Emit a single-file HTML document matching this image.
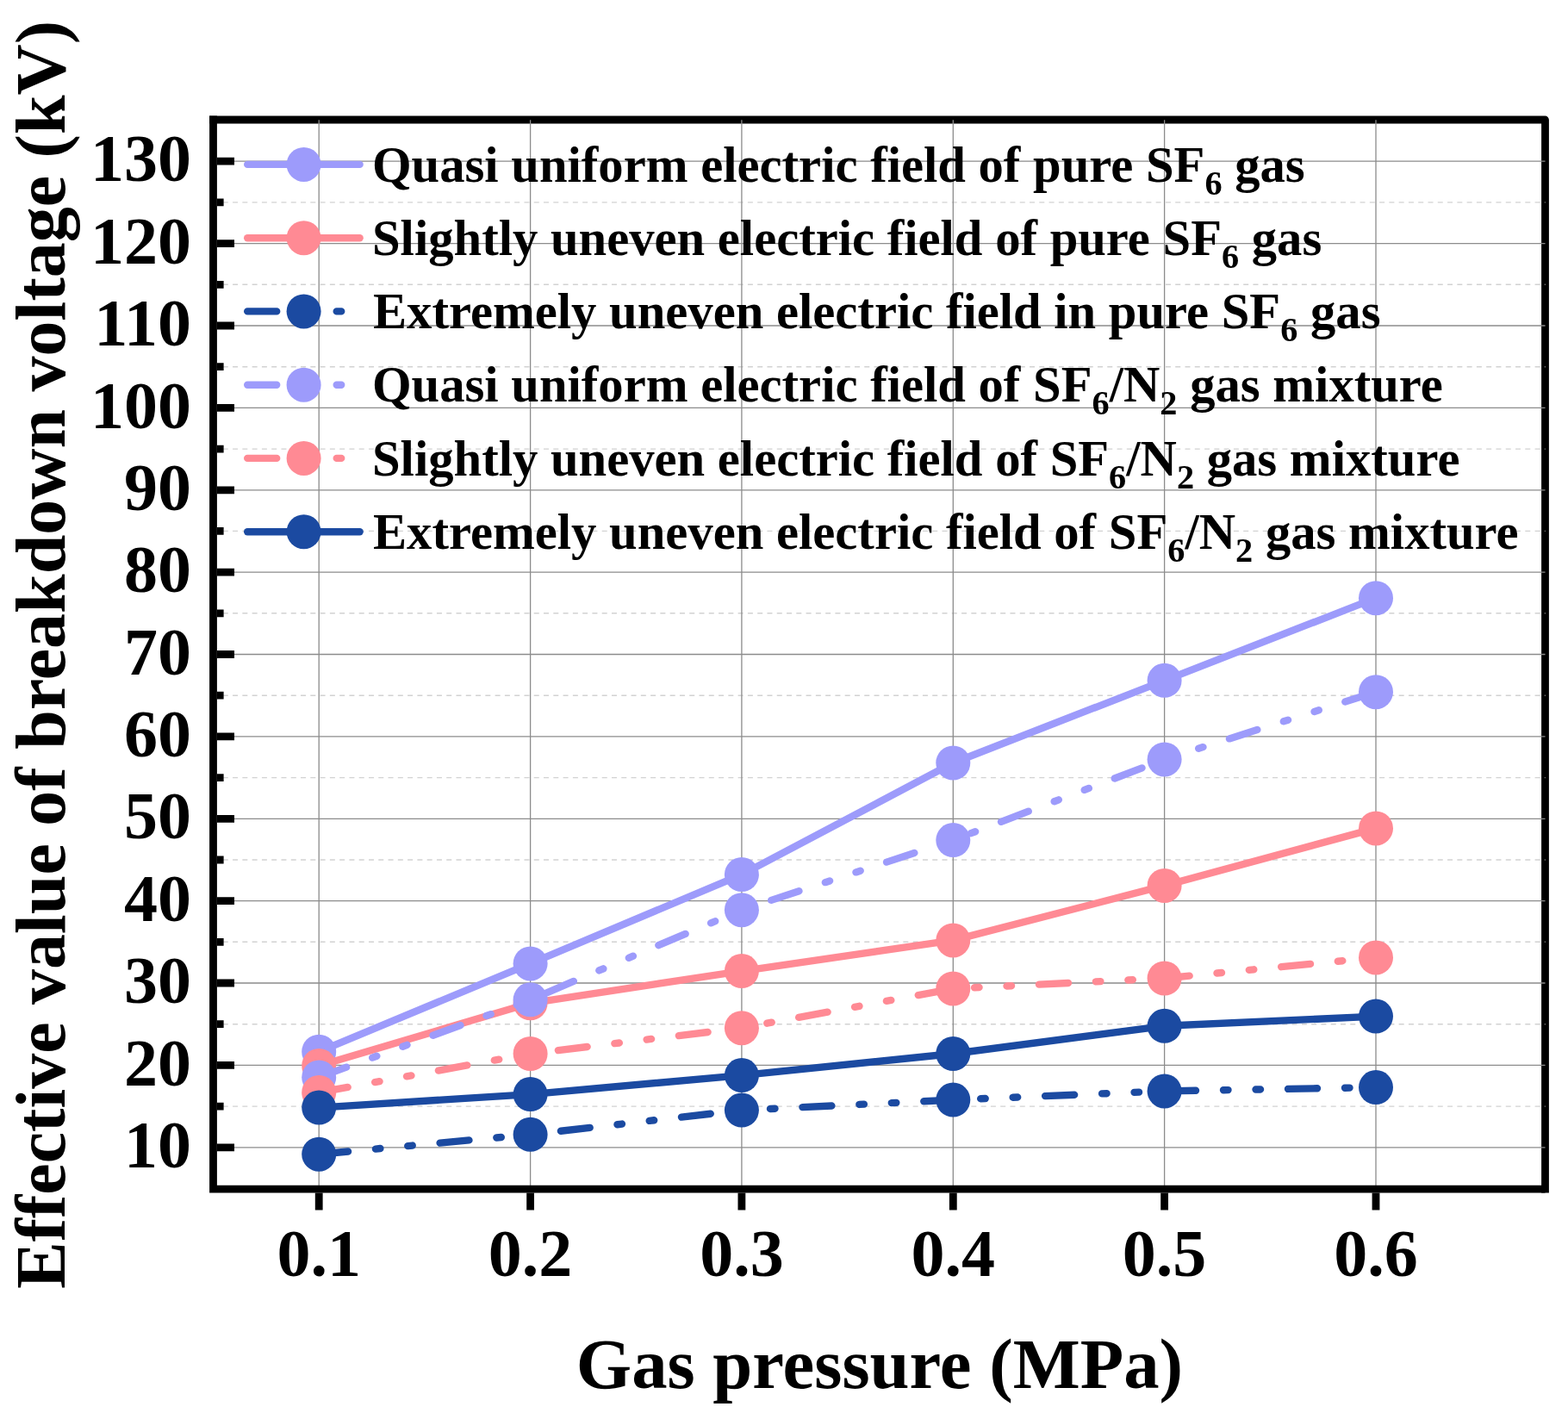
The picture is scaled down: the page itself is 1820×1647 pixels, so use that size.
<!DOCTYPE html>
<html><head><meta charset="utf-8"><style>html,body{margin:0;padding:0;background:#fff;}svg{display:block;}</style></head>
<body>
<svg width="1820" height="1647" viewBox="0 0 1820 1647">
<style>text{font-family:"Liberation Serif","Times New Roman",serif;font-weight:bold;fill:#000}</style>
<rect width="1820" height="1647" fill="#fff"/>
<path d="M243.1,139.0H1793.5V1384.6000000000001" stroke="#000" stroke-width="8.8" fill="none" stroke-linejoin="round"/>
<path d="M247.5,1284.1H1793.5 M247.5,1188.7H1793.5 M247.5,1093.3H1793.5 M247.5,998.0H1793.5 M247.5,902.6H1793.5 M247.5,807.2H1793.5 M247.5,711.8H1793.5 M247.5,616.4H1793.5 M247.5,521.1H1793.5 M247.5,425.7H1793.5 M247.5,330.3H1793.5 M247.5,234.9H1793.5" stroke="#d2d2d2" stroke-width="1.4" stroke-dasharray="6 5.28" fill="none"/>
<path d="M252,1331.8H1793.5 M252,1236.4H1793.5 M252,1141.0H1793.5 M252,1045.7H1793.5 M252,950.3H1793.5 M252,854.9H1793.5 M252,759.5H1793.5 M252,664.1H1793.5 M252,568.8H1793.5 M252,473.4H1793.5 M252,378.0H1793.5 M252,282.6H1793.5 M252,187.2H1793.5 M370.2,139.2V1376 M615.6,139.2V1376 M860.9,139.2V1376 M1106.3,139.2V1376 M1351.6,139.2V1376 M1597.0,139.2V1376" stroke="#8c8c8c" stroke-width="1.3" fill="none"/>
<path d="M252,1331.8H272 M252,1236.4H272 M252,1141.0H272 M252,1045.7H272 M252,950.3H272 M252,854.9H272 M252,759.5H272 M252,664.1H272 M252,568.8H272 M252,473.4H272 M252,378.0H272 M252,282.6H272 M252,187.2H272 M252,1284.1H259.6 M252,1188.7H259.6 M252,1093.3H259.6 M252,998.0H259.6 M252,902.6H259.6 M252,807.2H259.6 M252,711.8H259.6 M252,616.4H259.6 M252,521.1H259.6 M252,425.7H259.6 M252,330.3H259.6 M252,234.9H259.6 M370.2,1384.5V1404.4 M615.6,1384.5V1404.4 M860.9,1384.5V1404.4 M1106.3,1384.5V1404.4 M1351.6,1384.5V1404.4 M1597.0,1384.5V1404.4" stroke="#000" stroke-width="8.8" fill="none"/>
<path d="M247.5,134.6V1380.2H1793.5" stroke="#000" stroke-width="8.8" fill="none" stroke-linejoin="miter"/>
<path d="M287.2,190.9H417.6" stroke="#9d9bfb" stroke-width="8.4" stroke-linecap="round" fill="none"/>
<circle cx="352.6" cy="190.9" r="20" fill="#9d9bfb"/>
<path d="M287.2,276.2H417.6" stroke="#ff8a94" stroke-width="8.4" stroke-linecap="round" fill="none"/>
<circle cx="352.6" cy="276.2" r="20" fill="#ff8a94"/>
<path d="M287.2,361.4H417.6" stroke="#1b4aa1" stroke-width="8.4" stroke-linecap="round" stroke-dasharray="34 32 5.5 32 5.5 32" fill="none"/>
<circle cx="352.6" cy="361.4" r="20" fill="#1b4aa1"/>
<path d="M287.2,446.7H417.6" stroke="#9d9bfb" stroke-width="8.4" stroke-linecap="round" stroke-dasharray="34 32 5.5 32 5.5 32" fill="none"/>
<circle cx="352.6" cy="446.7" r="20" fill="#9d9bfb"/>
<path d="M287.2,531.9H417.6" stroke="#ff8a94" stroke-width="8.4" stroke-linecap="round" stroke-dasharray="34 32 5.5 32 5.5 32" fill="none"/>
<circle cx="352.6" cy="531.9" r="20" fill="#ff8a94"/>
<path d="M287.2,617.2H417.6" stroke="#1b4aa1" stroke-width="8.4" stroke-linecap="round" fill="none"/>
<circle cx="352.6" cy="617.2" r="20" fill="#1b4aa1"/>
<polyline points="370.2,1220.7 615.6,1118.4 860.9,1015.1 1106.3,885.5 1351.6,789.8 1597.0,694.2" stroke="#9d9bfb" stroke-width="8.4" stroke-linecap="round" stroke-linejoin="round" fill="none"/>
<circle cx="370.2" cy="1220.7" r="20" fill="#9d9bfb"/>
<circle cx="615.6" cy="1118.4" r="20" fill="#9d9bfb"/>
<circle cx="860.9" cy="1015.1" r="20" fill="#9d9bfb"/>
<circle cx="1106.3" cy="885.5" r="20" fill="#9d9bfb"/>
<circle cx="1351.6" cy="789.8" r="20" fill="#9d9bfb"/>
<circle cx="1597.0" cy="694.2" r="20" fill="#9d9bfb"/>
<polyline points="370.2,1237.0 615.6,1164.3 860.9,1127.1 1106.3,1091.4 1351.6,1027.9 1597.0,961.4" stroke="#ff8a94" stroke-width="8.4" stroke-linecap="round" stroke-linejoin="round" fill="none"/>
<circle cx="370.2" cy="1237.0" r="20" fill="#ff8a94"/>
<circle cx="615.6" cy="1164.3" r="20" fill="#ff8a94"/>
<circle cx="860.9" cy="1127.1" r="20" fill="#ff8a94"/>
<circle cx="1106.3" cy="1091.4" r="20" fill="#ff8a94"/>
<circle cx="1351.6" cy="1027.9" r="20" fill="#ff8a94"/>
<circle cx="1597.0" cy="961.4" r="20" fill="#ff8a94"/>
<polyline points="370.2,1339.7 615.6,1316.8 860.9,1288.6 1106.3,1276.6 1351.6,1266.4 1597.0,1262.1" stroke="#1b4aa1" stroke-width="8.4" stroke-linecap="round" stroke-linejoin="round" stroke-dasharray="34 32 5.5 32 5.5 32" fill="none"/>
<circle cx="370.2" cy="1339.7" r="20" fill="#1b4aa1"/>
<circle cx="615.6" cy="1316.8" r="20" fill="#1b4aa1"/>
<circle cx="860.9" cy="1288.6" r="20" fill="#1b4aa1"/>
<circle cx="1106.3" cy="1276.6" r="20" fill="#1b4aa1"/>
<circle cx="1351.6" cy="1266.4" r="20" fill="#1b4aa1"/>
<circle cx="1597.0" cy="1262.1" r="20" fill="#1b4aa1"/>
<polyline points="370.2,1250.4 615.6,1160.3 860.9,1056.2 1106.3,975.1 1351.6,881.4 1597.0,803.2" stroke="#9d9bfb" stroke-width="8.4" stroke-linecap="round" stroke-linejoin="round" stroke-dasharray="34 32 5.5 32 5.5 32" fill="none"/>
<circle cx="370.2" cy="1250.4" r="20" fill="#9d9bfb"/>
<circle cx="615.6" cy="1160.3" r="20" fill="#9d9bfb"/>
<circle cx="860.9" cy="1056.2" r="20" fill="#9d9bfb"/>
<circle cx="1106.3" cy="975.1" r="20" fill="#9d9bfb"/>
<circle cx="1351.6" cy="881.4" r="20" fill="#9d9bfb"/>
<circle cx="1597.0" cy="803.2" r="20" fill="#9d9bfb"/>
<polyline points="370.2,1268.0 615.6,1223.0 860.9,1193.2 1106.3,1147.5 1351.6,1135.5 1597.0,1111.4" stroke="#ff8a94" stroke-width="8.4" stroke-linecap="round" stroke-linejoin="round" stroke-dasharray="34 32 5.5 32 5.5 32" fill="none"/>
<circle cx="370.2" cy="1268.0" r="20" fill="#ff8a94"/>
<circle cx="615.6" cy="1223.0" r="20" fill="#ff8a94"/>
<circle cx="860.9" cy="1193.2" r="20" fill="#ff8a94"/>
<circle cx="1106.3" cy="1147.5" r="20" fill="#ff8a94"/>
<circle cx="1351.6" cy="1135.5" r="20" fill="#ff8a94"/>
<circle cx="1597.0" cy="1111.4" r="20" fill="#ff8a94"/>
<polyline points="370.2,1285.6 615.6,1270.1 860.9,1248.1 1106.3,1223.0 1351.6,1190.8 1597.0,1179.6" stroke="#1b4aa1" stroke-width="8.4" stroke-linecap="round" stroke-linejoin="round" fill="none"/>
<circle cx="370.2" cy="1285.6" r="20" fill="#1b4aa1"/>
<circle cx="615.6" cy="1270.1" r="20" fill="#1b4aa1"/>
<circle cx="860.9" cy="1248.1" r="20" fill="#1b4aa1"/>
<circle cx="1106.3" cy="1223.0" r="20" fill="#1b4aa1"/>
<circle cx="1351.6" cy="1190.8" r="20" fill="#1b4aa1"/>
<circle cx="1597.0" cy="1179.6" r="20" fill="#1b4aa1"/>
<text x="222" y="1354.9"  font-size="78" text-anchor="end">10</text>
<text x="222" y="1259.5"  font-size="78" text-anchor="end">20</text>
<text x="222" y="1164.1"  font-size="78" text-anchor="end">30</text>
<text x="222" y="1068.8"  font-size="78" text-anchor="end">40</text>
<text x="222" y="973.4"  font-size="78" text-anchor="end">50</text>
<text x="222" y="878.0"  font-size="78" text-anchor="end">60</text>
<text x="222" y="782.6"  font-size="78" text-anchor="end">70</text>
<text x="222" y="687.2"  font-size="78" text-anchor="end">80</text>
<text x="222" y="591.9"  font-size="78" text-anchor="end">90</text>
<text x="222" y="496.5"  font-size="78" text-anchor="end">100</text>
<text x="222" y="401.1"  font-size="78" text-anchor="end">110</text>
<text x="222" y="305.7"  font-size="78" text-anchor="end">120</text>
<text x="222" y="210.3"  font-size="78" text-anchor="end">130</text>
<text x="370.2" y="1481.3"  font-size="78" text-anchor="middle">0.1</text>
<text x="615.6" y="1481.3"  font-size="78" text-anchor="middle">0.2</text>
<text x="860.9" y="1481.3"  font-size="78" text-anchor="middle">0.3</text>
<text x="1106.3" y="1481.3"  font-size="78" text-anchor="middle">0.4</text>
<text x="1351.6" y="1481.3"  font-size="78" text-anchor="middle">0.5</text>
<text x="1597.0" y="1481.3"  font-size="78" text-anchor="middle">0.6</text>
<text x="432.0" y="210.5"  font-size="58.65">Quasi uniform electric field of pure SF<tspan font-size="40.3" dy="15">6</tspan><tspan dy="-15"> gas</tspan></text>
<text x="432.0" y="295.8"  font-size="58.65">Slightly uneven electric field of pure SF<tspan font-size="40.3" dy="15">6</tspan><tspan dy="-15"> gas</tspan></text>
<text x="433.0" y="381.0"  font-size="58.65">Extremely uneven electric field in pure SF<tspan font-size="40.3" dy="15">6</tspan><tspan dy="-15"> gas</tspan></text>
<text x="432.0" y="466.3"  font-size="58.65">Quasi uniform electric field of SF<tspan font-size="40.3" dy="15">6</tspan><tspan dy="-15">/N</tspan><tspan font-size="40.3" dy="15">2</tspan><tspan dy="-15"> gas mixture</tspan></text>
<text x="432.0" y="551.5"  font-size="58.65">Slightly uneven electric field of SF<tspan font-size="40.3" dy="15">6</tspan><tspan dy="-15">/N</tspan><tspan font-size="40.3" dy="15">2</tspan><tspan dy="-15"> gas mixture</tspan></text>
<text x="433.0" y="636.8"  font-size="58.65">Extremely uneven electric field of SF<tspan font-size="40.3" dy="15">6</tspan><tspan dy="-15">/N</tspan><tspan font-size="40.3" dy="15">2</tspan><tspan dy="-15"> gas mixture</tspan></text>
<text x="1021" y="1611.3"  font-size="82.7" text-anchor="middle">Gas pressure (MPa)</text>
<text transform="translate(75,760) rotate(-90)" x="0" y="0"  font-size="82" text-anchor="middle">Effective value of breakdown voltage (kV)</text>
</svg>
</body></html>
